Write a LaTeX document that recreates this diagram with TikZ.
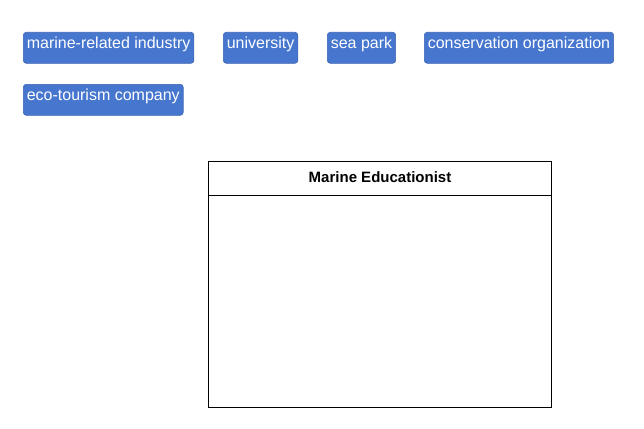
\documentclass[tikz,border=0pt]{standalone}
\usepackage{fontspec}
\setmainfont{Liberation Sans}
\definecolor{tagblue}{RGB}{70,118,206}
\definecolor{tagedge}{RGB}{60,100,180}
\tikzset{
  tag/.style={anchor=north west, fill=tagblue, draw=tagedge, line width=0.6pt, rounded corners=3pt,
    text=white, font=\fontsize{16}{18}\selectfont, inner xsep=3.5pt, inner ysep=4pt,
    text height=12pt, text depth=11pt},
  frame/.style={draw=black, line width=1pt}
}
\begin{document}
\begin{tikzpicture}[x=1pt,y=-1pt]
\useasboundingbox (0,0) rectangle (644,428);
\node[tag] (ind) at (23,32) {marine-related industry};
\node[tag] (uni) at (223,32) {university};
\node[tag] (sea) at (327,32) {sea park};
\node[tag] (con) at (424,32) {conservation organization};
\node[tag] (eco) at (23,84) {eco-tourism company};
\node[frame, anchor=north west, minimum width=343pt, minimum height=34pt, inner sep=0pt,
  text depth=2pt, font=\bfseries\fontsize{15}{17}\selectfont] (head) at (208,160.5) {Marine Educationist};
\node[frame, anchor=north west, minimum width=343pt, minimum height=212.5pt, inner sep=0pt] (body) at (208,194.5) {};
\end{tikzpicture}
\end{document}
